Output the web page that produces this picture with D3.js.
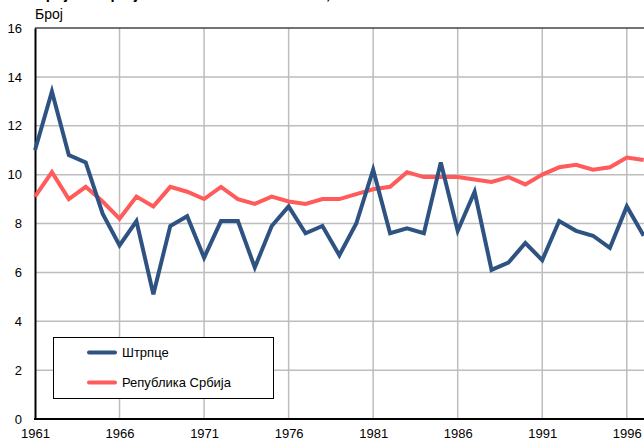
<!DOCTYPE html>
<html><head><meta charset="utf-8">
<script src="https://cdn.jsdelivr.net/npm/d3@7"></script>
<style>body{margin:0;background:#fff}svg{display:block}text{font-family:"Liberation Sans",Arial,sans-serif}</style>
</head><body><div id="c"></div>
<script>
const years = d3.range(1961, 1998);
const strpce = [11.0,13.4,10.8,10.5,8.4,7.1,8.1,5.1,7.9,8.3,6.6,8.1,8.1,6.2,7.9,8.7,7.6,7.9,6.7,8.0,10.2,7.6,7.8,7.6,10.5,7.7,9.3,6.1,6.4,7.2,6.5,8.1,7.7,7.5,7.0,8.7,7.5];
const srbija = [9.1,10.1,9.0,9.5,8.9,8.2,9.1,8.7,9.5,9.3,9.0,9.5,9.0,8.8,9.1,8.9,8.8,9.0,9.0,9.2,9.4,9.5,10.1,9.9,9.9,9.9,9.8,9.7,9.9,9.6,10.0,10.3,10.4,10.2,10.3,10.7,10.6];
const seriesNames = ["Штрпце","Република Србија"];
const xTicks = [1961,1966,1971,1976,1981,1986,1991,1996,2001,2006,2011];
const yTicks = [0,2,4,6,8,10,12,14,16];
const colors = ["#2e5282","#ff5b5b"];

const W=644,H=441;
const svg=d3.select("#c").append("svg").attr("width",W).attr("height",H);
const L=35,T=28,B=419;
const x=d3.scaleLinear().domain([1961,1997]).range([L,643.7]);
const y=d3.scaleLinear().domain([0,16]).range([B,T]);

// title (mostly above the viewport)
svg.append("text").attr("x",L).attr("y",-1).attr("font-weight","bold").attr("font-size",15).attr("fill","#000")
  .text("Број живорођених на 1.000 становника, 1961–2011");
svg.append("text").attr("x",L).attr("y",19).attr("font-size",14).attr("fill","#000").text("Број");

// grid
svg.append("g").selectAll("line.h").data(yTicks.filter(v=>v>0&&v<16)).join("line")
  .attr("x1",L).attr("x2",W+10).attr("y1",d=>y(d)).attr("y2",d=>y(d)).attr("stroke","#bdbdbd").attr("stroke-width",1.5);
svg.append("g").selectAll("line.v").data(xTicks.filter(v=>v>1961)).join("line")
  .attr("x1",d=>x(d)).attr("x2",d=>x(d)).attr("y1",T).attr("y2",B).attr("stroke","#bdbdbd").attr("stroke-width",1.5);
svg.append("line").attr("x1",L).attr("x2",W+10).attr("y1",T).attr("y2",T).attr("stroke","#444").attr("stroke-width",1.5);

// axes
const ya=svg.append("g").attr("transform",`translate(${L},0)`).call(d3.axisLeft(y).tickValues(yTicks).tickSize(0).tickPadding(13));
ya.select(".domain").attr("stroke","#000").attr("stroke-width",2);
ya.selectAll("text").attr("font-size",13).attr("fill","#000").style("font-family","Liberation Sans, Arial");
const xa=svg.append("g").attr("transform",`translate(0,${B})`).call(d3.axisBottom(x).tickValues(xTicks).tickFormat(d3.format("d")).tickSize(0).tickPadding(10));
xa.select(".domain").remove();
svg.append("line").attr("x1",L-1).attr("x2",W+10).attr("y1",B).attr("y2",B).attr("stroke","#000").attr("stroke-width",2);
xa.selectAll("text").attr("font-size",13).attr("fill","#000").style("font-family","Liberation Sans, Arial");

// lines
const line=d3.line().x((d,i)=>x(years[i])).y(d=>y(d));
[srbija,strpce].forEach((s,k)=>{
  svg.append("path").datum(s).attr("d",line).attr("fill","none")
    .attr("stroke",colors[k===0?1:0]).attr("stroke-width",4).attr("stroke-linejoin","miter");
});

// legend
const lg=svg.append("g");
lg.append("rect").attr("x",53.5).attr("y",337.5).attr("width",220).attr("height",61).attr("fill","#fff").attr("stroke","#000").attr("stroke-width",1);
seriesNames.forEach((n,i)=>{
  const yy=352.5+i*30;
  lg.append("line").attr("x1",89).attr("x2",115).attr("y1",yy).attr("y2",yy).attr("stroke",colors[i]).attr("stroke-width",4).attr("stroke-linecap","round");
  lg.append("text").attr("x",122).attr("y",yy+4.5).attr("font-size",13).attr("fill","#000").text(n);
});
</script></body></html>
